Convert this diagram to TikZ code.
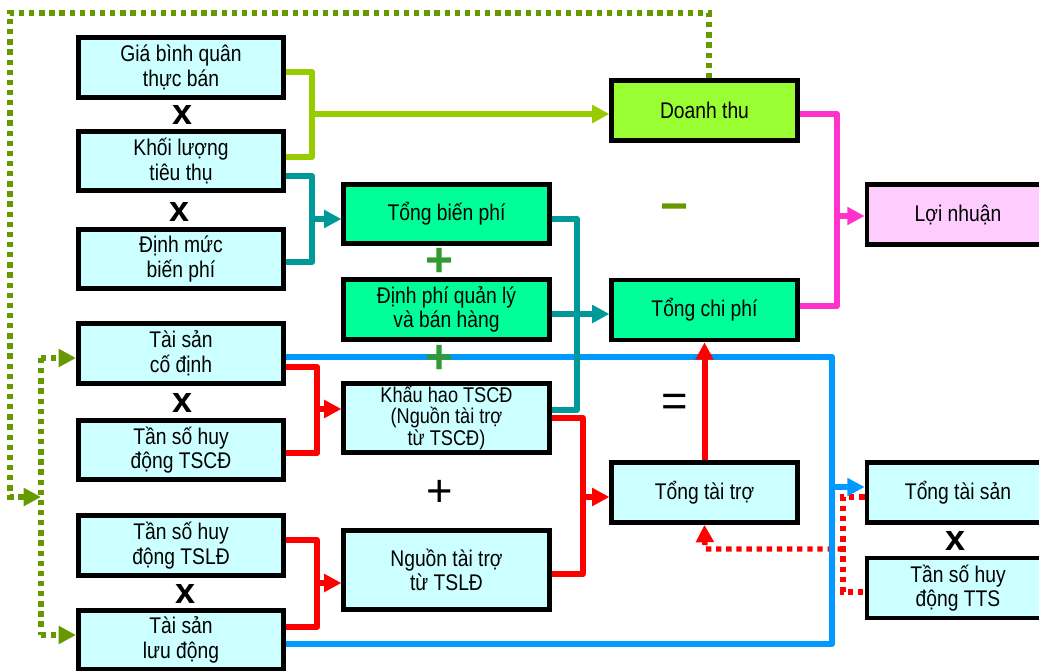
\documentclass[tikz,border=0pt]{standalone}
\usepackage{fontspec}
\setmainfont{Liberation Sans}[FakeStretch=0.85]
\newfontfamily\opfont{Liberation Sans}
\usetikzlibrary{arrows.meta}
\definecolor{cyanbox}{HTML}{CCFFFF}
\definecolor{greenbox}{HTML}{00FF99}
\definecolor{limebox}{HTML}{99FF33}
\definecolor{pinkbox}{HTML}{FFCCFF}
\definecolor{limec}{HTML}{99CC00}
\definecolor{tealc}{HTML}{009999}
\definecolor{pinkc}{HTML}{FF33CC}
\definecolor{bluec}{HTML}{0099FF}
\definecolor{redc}{HTML}{FF0000}
\definecolor{olivec}{HTML}{669900}
\definecolor{plusgreen}{HTML}{339933}
\tikzset{
  box/.style={draw=black,line width=3.6pt,minimum width=154pt,minimum height=44.5pt,
    inner sep=0pt,align=center,font=\fontsize{17}{18.5}\selectfont},
  rbox/.style={box,minimum width=139pt,minimum height=45pt},
  fbox/.style={box,minimum width=136.5pt,minimum height=45pt},
  opx/.style={font=\opfont\fontsize{27}{27}\bfseries\selectfont,inner sep=0pt},
  opplus/.style={font=\opfont\fontsize{34}{34}\selectfont,inner sep=0pt},
  wire/.style={line width=4.5pt,line join=round},
  arr/.style={-{Triangle[length=13pt,width=13pt]}},
  gdot/.style={line width=4pt,olivec,dash pattern=on 4pt off 3.6pt},
  rdot/.style={line width=4pt,redc,dash pattern=on 4pt off 3.6pt}}
\begin{document}
\begin{tikzpicture}[x=0.75pt,y=-0.75pt]
\useasboundingbox (0,0) rectangle (1039,671);
\clip (0,0) rectangle (1039,671);

% coordinates of junctions
\coordinate (lA) at (312,72);  \coordinate (lB) at (312,157); \coordinate (lM) at (312,114);
\coordinate (tA) at (312,176); \coordinate (tB) at (312,262); \coordinate (tM) at (312,219);
\coordinate (tC) at (577,219); \coordinate (tD) at (577,410); \coordinate (tE) at (577,314);
\coordinate (pA) at (837,114); \coordinate (pB) at (837,306); \coordinate (pM) at (837,216);
\coordinate (rA) at (317,367); \coordinate (rB) at (317,453); \coordinate (rM) at (317,409);
\coordinate (rC) at (317,540); \coordinate (rD) at (317,627); \coordinate (rN) at (317,583);
\coordinate (rE) at (583,418); \coordinate (rF) at (583,574); \coordinate (rO) at (583,497);
\coordinate (bA) at (832,357); \coordinate (bB) at (832,644); \coordinate (bM) at (832,487);
\coordinate (dA) at (843,497); \coordinate (dB) at (843,592); \coordinate (dM) at (843,549);
\coordinate (dN) at (705,549);
\coordinate (gA) at (709,13);  \coordinate (gB) at (10,13);   \coordinate (gC) at (10,497);
\coordinate (gD) at (41,497);  \coordinate (gE) at (41,358);  \coordinate (gF) at (41,635);

% boxes
\node[box,fill=cyanbox] (b1) at (181,67.5) {Giá bình quân\\thực bán};
\node[box,fill=cyanbox] (b2) at (181,161) {Khối lượng\\tiêu thụ};
\node[box,fill=cyanbox] (b3) at (181,259) {Định mức\\biến phí};
\node[box,fill=cyanbox] (b4) at (181,353.5) {Tài sản\\cố định};
\node[box,fill=cyanbox] (b5) at (181,450) {Tần số huy\\động TSCĐ};
\node[box,fill=cyanbox] (b6) at (181,545.5) {Tần số huy\\động TSLĐ};
\node[box,fill=cyanbox] (b7) at (181,640) {Tài sản\\lưu động};
\node[box,fill=greenbox] (m1) at (446.5,214) {Tổng biến phí};
\node[box,fill=greenbox] (m2) at (446.5,309.5) {Định phí quản lý\\và bán hàng};
\node[box,fill=cyanbox,minimum height=51.4pt,font=\fontsize{16}{15.8}\selectfont] (m3) at (446.5,418) {Khấu hao TSCĐ\\(Nguồn tài trợ\\từ TSCĐ)};
\node[box,fill=cyanbox,minimum height=59pt] (m4) at (446.5,570) {Nguồn tài trợ\\từ TSLĐ};
\node[rbox,fill=limebox] (r1) at (704.5,110.5) {Doanh thu};
\node[rbox,fill=greenbox] (r2) at (704.5,310) {Tổng chi phí};
\node[rbox,fill=cyanbox] (r3) at (704.5,492.5) {Tổng tài trợ};
\node[fbox,fill=pinkbox] (ln) at (958,214.5) {Lợi nhuận};
\node[fbox,fill=cyanbox] (r4) at (958,492.5) {Tổng tài sản};
\node[fbox,fill=cyanbox] (r5) at (958,588) {Tần số huy\\động TTS};

% green dotted feedback
\draw[gdot,arr] (r1.north -| gA) -- (gA) -- (gB) -- (gC) -- (gD);
\draw[gdot] (gE) -- (gF);
\draw[gdot,arr] (gE) -- (b4.west |- gE);
\draw[gdot,arr] (gF) -- (b7.west |- gF);

% red dotted
\draw[rdot] (r4.west |- dA) -- (dA) -- (dB) -- (r5.west |- dB);
\draw[rdot,arr] (dM) -- (dN) -- (r3.south);

% lime
\draw[wire,limec] (b1.east |- lA) -- (lA) -- (lB) -- (b2.east |- lB);
\draw[wire,limec,arr] (lM) -- (r1.west |- lM);

% blue
\draw[wire,bluec] (b4.east |- bA) -- (bA) -- (bB) -- (b7.east |- bB);
\draw[wire,bluec,arr] (bM) -- (r4.west |- bM);

% teal
\draw[wire,tealc] (b2.east |- tA) -- (tA) -- (tB) -- (b3.east |- tB);
\draw[wire,tealc,arr] (tM) -- (m1.west |- tM);
\draw[wire,tealc] (m1.east |- tC) -- (tC) -- (tD) -- (m3.east |- tD);
\draw[wire,tealc,arr] (m2.east |- tE) -- (r2.west |- tE);

% pink
\draw[wire,pinkc] (r1.east |- pA) -- (pA) -- (pB) -- (r2.east |- pB);
\draw[wire,pinkc,arr] (pM) -- (ln.west |- pM);

% red
\draw[wire,redc] (b4.east |- rA) -- (rA) -- (rB) -- (b5.east |- rB);
\draw[wire,redc,arr] (rM) -- (m3.west |- rM);
\draw[wire,redc] (b6.east |- rC) -- (rC) -- (rD) -- (b7.east |- rD);
\draw[wire,redc,arr] (rN) -- (m4.west |- rN);
\draw[wire,redc] (m3.east |- rE) -- (rE) -- (rF) -- (m4.east |- rF);
\draw[wire,redc,arr] (rO) -- (r3.west |- rO);
\draw[wire,redc,arr] (r3.north) -- (r2.south);

% operators
\node[opx] (x1) at (183,115) {x};
\node[opx] (x2) at (180,212) {x};
\node[opx] (x3) at (183,403) {x};
\node[opx] (x4) at (186,594) {x};
\node[opx] (x5) at (956,541) {x};
\node[opplus,text=plusgreen,font=\opfont\fontsize{36}{36}\bfseries\selectfont] (p1) at (440,262) {+};
\node[opplus,text=plusgreen,font=\opfont\fontsize{36}{36}\bfseries\selectfont] (p2) at (440,359) {+};
\node[opplus] (p3) at (440,493) {+};
\node[opplus] (eq) at (675,405) {=};
\node[opplus,text=olivec,font=\opfont\fontsize{36}{36}\bfseries\selectfont] (mi) at (675,213) {−};
\end{tikzpicture}
\end{document}
